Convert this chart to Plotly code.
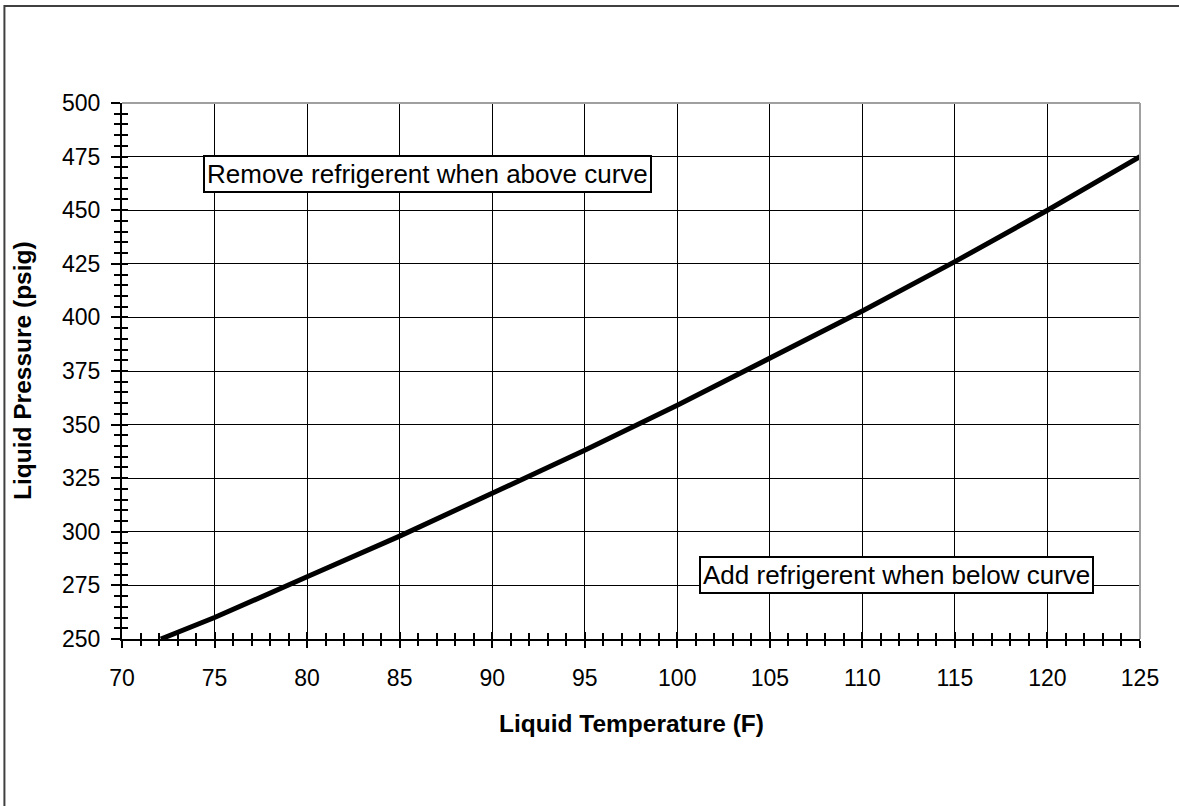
import plotly.graph_objects as go

# Data
temps_f = [72.1, 75, 80, 85, 90, 95, 100, 105, 110, 115, 120, 125]
pressures_psig = [250, 260, 279, 298, 318, 338, 359, 381, 403, 426, 450, 475]

x_range = [70, 125]
y_range = [250, 500]
x_major = 5
x_minor = 1
y_major = 25
y_minor = 5

x_title = "Liquid Temperature (F)"
y_title = "Liquid Pressure (psig)"
note_above = "Remove refrigerent when above curve"
note_below = "Add refrigerent when below curve"

FONT = "Liberation Sans, Arial, sans-serif"

fig = go.Figure()
fig.add_trace(go.Scatter(x=temps_f, y=pressures_psig, mode="lines",
                         line=dict(color="black", width=5),
                         hoverinfo="skip", showlegend=False))
# empty trace so overlay axes render (used for the inner halves of crossing ticks)
fig.add_trace(go.Scatter(x=[None], y=[None], xaxis="x2", yaxis="y2",
                         mode="lines", hoverinfo="skip", showlegend=False))

common = dict(showline=True, linecolor="black", linewidth=2,
              gridcolor="black", gridwidth=1, zeroline=False,
              ticks="outside", tickcolor="black", tickwidth=1.5,
              tickfont=dict(family=FONT, size=23, color="black"))

fig.update_layout(
    width=1179, height=806,
    margin=dict(l=122, r=39, t=103, b=167),
    plot_bgcolor="white", paper_bgcolor="white",
    xaxis=dict(range=x_range, dtick=x_major, tick0=70, ticklen=7,
               minor=dict(dtick=x_minor, ticks="outside", ticklen=5,
                          tickcolor="black", tickwidth=1.5, showgrid=False),
               ticklabelstandoff=10, **common),
    yaxis=dict(range=y_range, dtick=y_major, tick0=250, ticklen=9,
               minor=dict(dtick=y_minor, ticks="outside", ticklen=6,
                          tickcolor="black", tickwidth=1.5, showgrid=False),
               ticklabelstandoff=6, **common),
    xaxis2=dict(range=x_range, overlaying="x", anchor="y2", side="bottom",
                showgrid=False, showline=False, zeroline=False,
                showticklabels=False, dtick=x_major, tick0=70,
                ticks="inside", ticklen=7, tickcolor="black", tickwidth=1.5,
                minor=dict(dtick=x_minor, ticks="inside", ticklen=6,
                           tickcolor="black", tickwidth=1.5, showgrid=False)),
    yaxis2=dict(range=y_range, overlaying="y", anchor="x2", side="left",
                showgrid=False, showline=False, zeroline=False,
                showticklabels=False, dtick=y_major, tick0=250,
                ticks="inside", ticklen=6, tickcolor="black", tickwidth=1.5,
                minor=dict(dtick=y_minor, ticks="inside", ticklen=6,
                           tickcolor="black", tickwidth=1.5, showgrid=False)),
)

# plot-area top and right border (gray)
fig.add_shape(type="line", xref="paper", yref="paper", x0=0, x1=1, y0=1, y1=1,
              line=dict(color="#a0a0a0", width=2), layer="above")
fig.add_shape(type="line", xref="paper", yref="paper", x0=1, x1=1, y0=0, y1=1,
              line=dict(color="#a0a0a0", width=2), layer="above")
# outer chart border
fig.add_shape(type="rect", xref="paper", yref="paper",
              x0=-0.1155, x1=1.05, y0=-0.33, y1=1.181,
              line=dict(color="#404040", width=2), layer="below")

fig.add_annotation(xref="paper", yref="paper", x=0.0793, y=0.903,
                   xanchor="left", yanchor="top", text=note_above, showarrow=False,
                   font=dict(family=FONT, size=26, color="black"),
                   bgcolor="white", bordercolor="black", borderwidth=2, borderpad=2)
fig.add_annotation(xref="paper", yref="paper", x=0.9545, y=0.084,
                   xanchor="right", yanchor="bottom", text=note_below, showarrow=False,
                   font=dict(family=FONT, size=26, color="black"),
                   bgcolor="white", bordercolor="black", borderwidth=2, borderpad=2)

# axis titles
fig.add_annotation(xref="paper", yref="paper", x=0.5, y=(639 - 723) / 536,
                   xanchor="center", yanchor="middle", text="<b>" + x_title + "</b>",
                   showarrow=False, font=dict(family=FONT, size=24.5, color="black"))
fig.add_annotation(xref="paper", yref="paper", x=(22 - 122) / 1018, y=0.5,
                   xanchor="center", yanchor="middle", text="<b>" + y_title + "</b>",
                   textangle=-90, showarrow=False,
                   font=dict(family=FONT, size=24.5, color="black"))

fig.write_html("out.html", config={"displayModeBar": False},
               post_script="document.body.style.margin='0';")
